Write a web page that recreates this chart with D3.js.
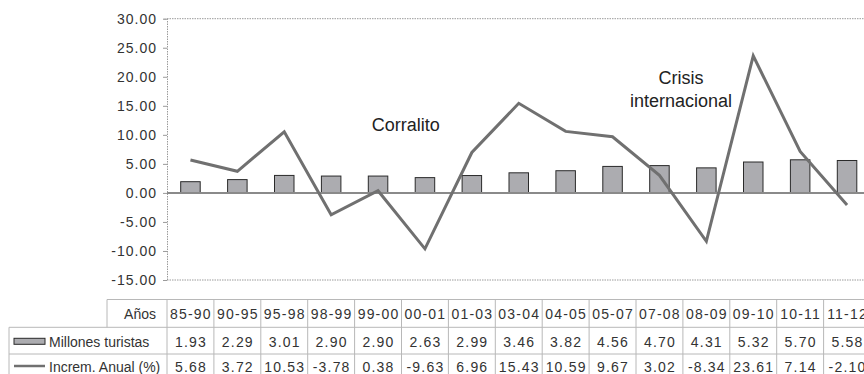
<!DOCTYPE html>
<html>
<head>
<meta charset="utf-8">
<script src="https://cdn.jsdelivr.net/npm/d3@7"></script>
<style>
  html, body { margin: 0; padding: 0; background: #fff; }
  svg { display: block; font-family: "Liberation Sans", Arial, Helvetica, sans-serif; }
</style>
</head>
<body>
<svg id="chart" width="864" height="374"></svg>
<script>
// Tourist arrivals (millions) and annual growth (%) by period
const periods = ["85-90","90-95","95-98","98-99","99-00","00-01","01-03","03-04","04-05","05-07","07-08","08-09","09-10","10-11","11-12"];
const tourists = [1.93, 2.29, 3.01, 2.90, 2.90, 2.63, 2.99, 3.46, 3.82, 4.56, 4.70, 4.31, 5.32, 5.70, 5.58];
const growth = [5.68, 3.72, 10.53, -3.78, 0.38, -9.63, 6.96, 15.43, 10.59, 9.67, 3.02, -8.34, 23.61, 7.14, -2.10];
const yTicks = [-15, -10, -5, 0, 5, 10, 15, 20, 25, 30];
const seriesNames = ["Millones turistas", "Increm. Anual (%)"];
const headerLabel = "Años";
// event notes: band index + fraction of the band, and the value level of the first line's baseline
const notes = [
  { lines: ["Corralito"], at: 5, frac: 0.09, value: 10.6 },
  { lines: ["Crisis", "internacional"], at: 10, frac: 0.96, value: 18.77 }
];

const svg = d3.select("#chart");
const plotLeft = 167, bandW = 46.9;
const plotTop = 18.7, plotBottom = 280;

const fmt = d3.formatLocale({ decimal: ".", thousands: ",", grouping: [3], currency: ["", ""], minus: "-" }).format(".2f");

const x = d3.scaleBand().domain(periods).range([plotLeft, plotLeft + bandW * periods.length]).paddingInner(0).paddingOuter(0);
const y = d3.scaleLinear().domain([-15, 30]).range([plotBottom, plotTop]);
const xc = d => x(d) + x.bandwidth() / 2;

const textCol = "#333";

// frame: dotted top / bottom borders
[30, -15].forEach(v => {
  svg.append("line")
    .attr("x1", plotLeft).attr("x2", x.range()[1])
    .attr("y1", y(v)).attr("y2", y(v))
    .attr("stroke", "#9a9a9a").attr("stroke-width", 1)
    .attr("stroke-dasharray", "1.5,1");
});

// y axis
const yAxis = svg.append("g")
  .attr("transform", `translate(${plotLeft},0)`)
  .call(d3.axisLeft(y).tickValues(yTicks).tickSize(4).tickPadding(6).tickFormat(fmt));
yAxis.select(".domain").attr("stroke", "#9a9a9a").attr("stroke-dasharray", "1.5,1");
yAxis.selectAll(".tick line").attr("stroke", "#9a9a9a");
yAxis.selectAll(".tick text")
  .attr("fill", textCol)
  .style("font-family", "'Liberation Sans', Arial, sans-serif")
  .style("font-size", "14px")
  .style("letter-spacing", "1px");

// bars
const barW = 19.5;
svg.append("g").selectAll("rect")
  .data(periods)
  .join("rect")
  .attr("x", d => xc(d) - barW / 2)
  .attr("width", barW)
  .attr("y", (d, i) => y(tourists[i]))
  .attr("height", (d, i) => y(0) - y(tourists[i]))
  .attr("fill", "#acacb0")
  .attr("stroke", "#2a2a2a")
  .attr("stroke-width", 1);

// zero line
svg.append("line")
  .attr("x1", plotLeft).attr("x2", x.range()[1])
  .attr("y1", y(0)).attr("y2", y(0))
  .attr("stroke", "#8a8a8a").attr("stroke-width", 2);

// growth line
const line = d3.line().x(d => xc(d.p)).y(d => y(d.v));
svg.append("path")
  .datum(periods.map((p, i) => ({ p, v: growth[i] })))
  .attr("d", line)
  .attr("fill", "none")
  .attr("stroke", "#707070")
  .attr("stroke-width", 3)
  .attr("stroke-linejoin", "miter");

// annotations
notes.forEach(n => {
  const cx = x(periods[n.at]) + n.frac * x.bandwidth();
  const t = svg.append("text")
    .attr("x", cx)
    .attr("y", y(n.value))
    .attr("text-anchor", "middle")
    .attr("fill", "#222")
    .style("font-size", "18px");
  n.lines.forEach((l, k) => {
    t.append("tspan").attr("x", cx).attr("dy", k ? 22.7 : 0).text(l);
  });
});

// data table
const rowY = [299.5, 327.3, 354, 381];
const tableRight = x.range()[1];
const grid = svg.append("g").attr("stroke", "#b8b8b8").attr("stroke-width", 1);
// horizontal rules
grid.append("line").attr("x1", 107).attr("x2", tableRight).attr("y1", rowY[0]).attr("y2", rowY[0]);
grid.append("line").attr("x1", 9).attr("x2", tableRight).attr("y1", rowY[1]).attr("y2", rowY[1]);
grid.append("line").attr("x1", 9).attr("x2", tableRight).attr("y1", rowY[2]).attr("y2", rowY[2]);
grid.append("line").attr("x1", 9).attr("x2", tableRight).attr("y1", rowY[3]).attr("y2", rowY[3]);
// vertical rules
grid.append("line").attr("x1", 107).attr("x2", 107).attr("y1", rowY[0]).attr("y2", rowY[1]);
grid.append("line").attr("x1", 9).attr("x2", 9).attr("y1", rowY[1]).attr("y2", rowY[3]);
periods.concat([null]).forEach((p, i) => {
  const xx = p ? x(p) : tableRight;
  grid.append("line").attr("x1", xx).attr("x2", xx).attr("y1", rowY[0]).attr("y2", rowY[3]);
});

const rowBase = [318.5, 346.8, 372.3];
const tbl = svg.append("g").attr("fill", textCol).style("font-size", "14px");

tbl.append("text").attr("x", 156).attr("y", rowBase[0]).attr("text-anchor", "end").text(headerLabel);

// legend keys inside the row headers
svg.append("rect").attr("x", 14).attr("y", 338.3).attr("width", 31).attr("height", 6)
  .attr("fill", "#acacb0").attr("stroke", "#2a2a2a").attr("stroke-width", 1);
svg.append("line").attr("x1", 14).attr("x2", 45).attr("y1", 366).attr("y2", 366)
  .attr("stroke", "#707070").attr("stroke-width", 2.5);
tbl.append("text").attr("x", 49).attr("y", rowBase[1]).text(seriesNames[0]);
tbl.append("text").attr("x", 49).attr("y", rowBase[2]).text(seriesNames[1]);

const cell = (arr, row, f) => tbl.append("g").selectAll("text")
  .data(periods)
  .join("text")
  .attr("x", d => xc(d) + 0.5)
  .attr("y", rowBase[row])
  .attr("text-anchor", "middle")
  .style("letter-spacing", "1.2px")
  .text((d, i) => f(arr[i]));

cell(periods, 0, v => v);
cell(tourists, 1, fmt);
cell(growth, 2, fmt);
</script>
</body>
</html>
